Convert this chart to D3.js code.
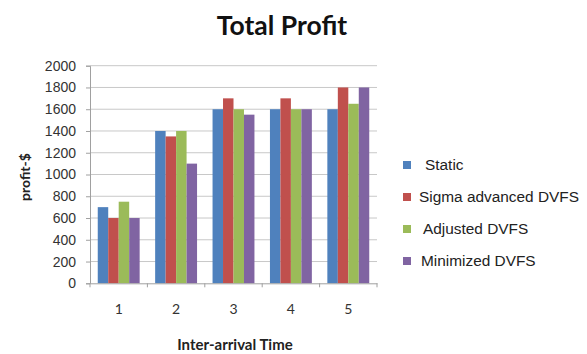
<!DOCTYPE html>
<html><head><meta charset="utf-8">
<script src="https://cdn.jsdelivr.net/npm/d3@7"></script>
<style>body{margin:0;background:#fff;}svg{display:block;}</style>
</head><body>
<svg id="c" width="587" height="354"></svg>
<script>
const categories = ["1","2","3","4","5"];
const seriesNames = ["Static","Sigma advanced DVFS","Adjusted DVFS","Minimized DVFS"];
const staticVals = [700,1400,1600,1600,1600];
const sigmaVals = [600,1350,1700,1700,1800];
const adjustedVals = [750,1400,1600,1600,1650];
const minimizedVals = [600,1100,1550,1600,1800];
const yTicks = [0,200,400,600,800,1000,1200,1400,1600,1800,2000];
const colors = ["#4F81BD","#C0504D","#9BBB59","#8064A2"];
const series = [staticVals, sigmaVals, adjustedVals, minimizedVals];

const svg = d3.select("#c");
const pLeft = 90, pRight = 377, pTop = 65.7, pBottom = 283.3;
const x = d3.scaleBand().domain(categories).range([pLeft, pRight]).paddingInner(0.27).paddingOuter(0.135);
const xs = d3.scaleBand().domain(seriesNames).range([0, x.bandwidth()]);
const y = d3.scaleLinear().domain([0,2000]).range([pBottom, pTop]);

// gridlines
svg.append("g").selectAll("line").data(yTicks.filter(d=>d>0)).join("line")
  .attr("x1", pLeft).attr("x2", pRight).attr("y1", d=>y(d)).attr("y2", d=>y(d))
  .attr("stroke", "#c8c8c8").attr("stroke-width", 1);

// y axis
const ya = svg.append("g").attr("transform", `translate(${pLeft},0)`)
  .call(d3.axisLeft(y).tickValues(yTicks).tickFormat(d3.format("d")).tickSize(4).tickPadding(10));
ya.select(".domain").attr("stroke", "#a0a0a0");
ya.selectAll(".tick line").attr("stroke", "#a0a0a0");
ya.selectAll(".tick text").attr("font-family", "Liberation Sans, Arial, sans-serif").attr("font-size", 14).attr("fill", "#333");

// bars
const g = svg.append("g");
series.forEach((vals, si) => {
  g.append("g").selectAll("rect").data(vals).join("rect")
    .attr("x", (d,i) => x(categories[i]) + xs(seriesNames[si]))
    .attr("width", xs.bandwidth())
    .attr("y", d => y(d))
    .attr("height", d => pBottom - y(d))
    .attr("fill", colors[si]);
});

// x axis
const xa = svg.append("g").attr("transform", `translate(0,${pBottom})`)
  .call(d3.axisBottom(x).tickSize(0).tickPadding(21));
xa.select(".domain").attr("stroke", "#a0a0a0");
xa.selectAll(".tick text").attr("font-family", "Lato, Open Sans, sans-serif").attr("font-size", 14).attr("fill", "#333");
const bounds = d3.range(categories.length + 1).map(i => pLeft + i * (pRight - pLeft) / categories.length);
svg.append("g").selectAll("line").data(bounds).join("line")
  .attr("x1", d=>d).attr("x2", d=>d).attr("y1", pBottom).attr("y2", pBottom + 4)
  .attr("stroke", "#a0a0a0");

// title
svg.append("text").attr("x", 282).attr("y", 35).attr("text-anchor", "middle")
  .attr("font-family", "Lato, Open Sans, sans-serif").attr("font-weight", "bold").attr("font-size", 26.5)
  .attr("fill", "#111").text("Total Profit");

// axis titles
svg.append("text").attr("transform", "translate(30,177) rotate(-90)").attr("text-anchor", "middle")
  .attr("font-family", "Lato, Open Sans, sans-serif").attr("font-weight", "bold").attr("font-size", 14)
  .attr("fill", "#222").text("profit-$");
svg.append("text").attr("x", 235).attr("y", 350).attr("text-anchor", "middle")
  .attr("font-family", "Lato, Open Sans, sans-serif").attr("font-weight", "bold").attr("font-size", 15)
  .attr("fill", "#222").text("Inter-arrival Time");

// legend
const legendY = [165, 197, 229, 261];
const legendTextX = [425, 419, 423, 421];
const lg = svg.append("g");
seriesNames.forEach((name, i) => {
  lg.append("rect").attr("x", 403).attr("y", legendY[i] - 4).attr("width", 8).attr("height", 8).attr("fill", colors[i]);
  lg.append("text").attr("x", legendTextX[i]).attr("y", legendY[i]).attr("dy", "0.35em")
    .attr("font-family", "Liberation Sans, Arial, sans-serif").attr("font-size", 15.4).attr("fill", "#222").text(name);
});
</script>
</body></html>
